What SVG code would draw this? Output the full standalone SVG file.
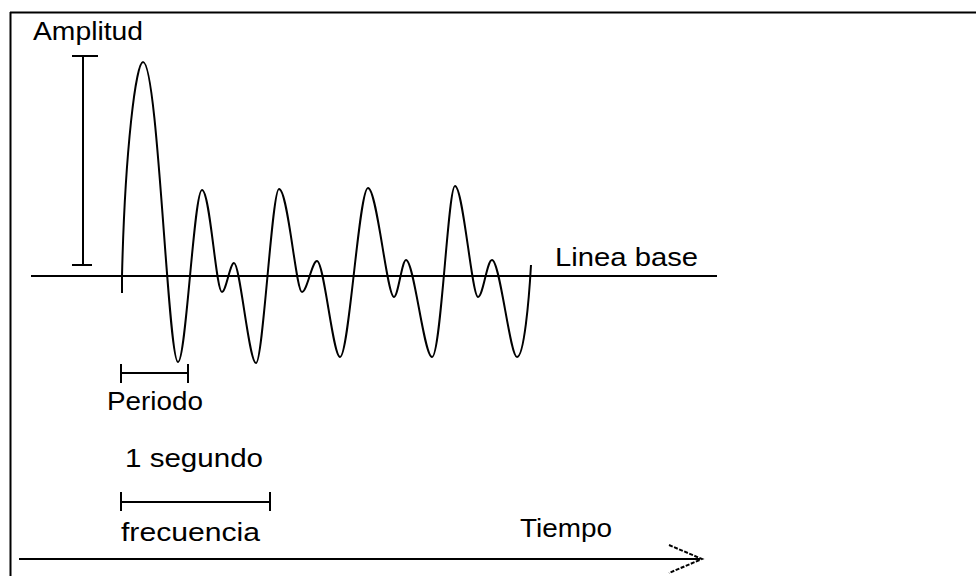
<svg xmlns="http://www.w3.org/2000/svg" width="976" height="576" viewBox="0 0 976 576">
<style>
.ln{stroke:#000;stroke-width:2;fill:none}
.tx{font-family:"Liberation Sans",Arial,sans-serif;font-size:25px;fill:#000}
</style>
<rect width="976" height="576" fill="#fff"/>
<g id="frame">
<line class="ln" x1="10" y1="12.5" x2="976" y2="12.5" stroke-width="3"/>
<line class="ln" x1="10.5" y1="12" x2="10.5" y2="576" stroke-width="3"/>
</g>
<g id="baseline">
<line class="ln" x1="31" y1="276" x2="717" y2="276"/>
<text class="tx" x="555" y="266" textLength="143" lengthAdjust="spacingAndGlyphs">Linea base</text>
</g>
<g id="amplitude">
<line class="ln" x1="83" y1="56" x2="83" y2="265"/>
<line class="ln" x1="72" y1="56" x2="98" y2="56"/>
<line class="ln" x1="72" y1="265" x2="92" y2="265"/>
<text class="tx" x="33" y="40" textLength="110" lengthAdjust="spacingAndGlyphs">Amplitud</text>
</g>
<g id="wave">
<path class="ln" stroke-width="2.2" d="M122,293 L122,276 C125,150 136,62 143,62 C158,62 168,362 178,362 C186,362 194,190 202,190 C210,190 216,292 222,292 C226,292 230,263 234,263 C240,263 249,363 256,363 C263,363 272,189 279,189 C288,189 296,292 302,292 C307,292 312,261 317,261 C324,261 333,357 340,357 C349,357 359,188 368,188 C377,188 387,297 394,297 C398,297 402,260 406,260 C414,260 424,357 432,357 C441,357 448,186 455,186 C463,186 472,297 478,297 C483,297 487,260 492,260 C500,260 510,357 517,357 C524,357 529,300 531,265"/>
</g>
<g id="period">
<line class="ln" x1="121" y1="373" x2="188" y2="373"/>
<line class="ln" x1="121" y1="364" x2="121" y2="383"/>
<line class="ln" x1="188" y1="364" x2="188" y2="383"/>
<text class="tx" x="107" y="410" textLength="96" lengthAdjust="spacingAndGlyphs">Periodo</text>
</g>
<g id="frequency">
<text class="tx" x="125" y="467" textLength="138" lengthAdjust="spacingAndGlyphs">1 segundo</text>
<line class="ln" x1="121" y1="502" x2="270" y2="502"/>
<line class="ln" x1="121" y1="492" x2="121" y2="511"/>
<line class="ln" x1="270" y1="492" x2="270" y2="511"/>
<text class="tx" x="121" y="541" textLength="139" lengthAdjust="spacingAndGlyphs">frecuencia</text>
</g>
<g id="connectors">
<line class="ln" x1="19" y1="559" x2="700" y2="559"/>
<polyline class="ln" stroke-width="1.5" stroke-dasharray="4,1.5" points="669,545 702,559 669,573"/>
<text class="tx" x="520" y="537" textLength="92" lengthAdjust="spacingAndGlyphs">Tiempo</text>
</g>
</svg>
